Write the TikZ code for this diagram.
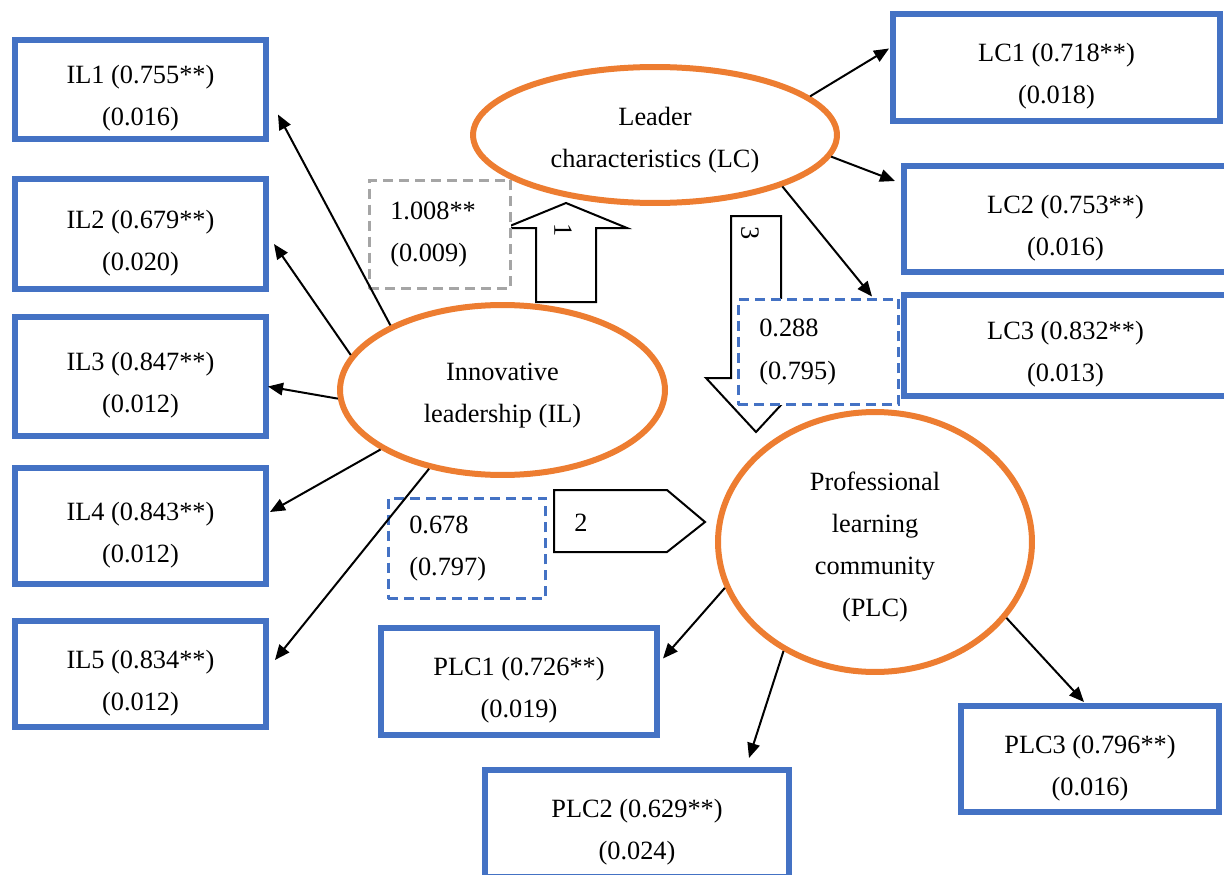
\documentclass[tikz,border=0pt]{standalone}
\usepackage{fontspec}
\setmainfont{Liberation Serif}
\usetikzlibrary{shapes.geometric,arrows.meta}

\definecolor{boxblue}{RGB}{68,114,196}
\definecolor{latorange}{RGB}{237,125,49}
\definecolor{estgray}{RGB}{165,165,165}

% extra room above the first line, as in the text boxes of the original
\newcommand{\indgap}{\rule{0pt}{0.72cm}}
\newcommand{\latgap}{\rule{0pt}{0.58cm}}

\begin{document}
\begin{tikzpicture}[x=0.02cm, y=-0.02cm, font=\fontsize{15}{24}\selectfont,
  ind/.style={draw=boxblue, line width=0.12cm, inner sep=0pt, align=center, fill=white},
  lat/.style={ellipse, draw=latorange, line width=0.12cm, inner sep=0pt, align=center, fill=white},
  est/.style={draw=boxblue, line width=0.05cm, dash pattern=on 0.2cm off 0.12cm, inner xsep=0.42cm, inner ysep=0pt, align=left, fill=white},
  blk/.style={draw, line width=0.04cm, fill=white},
  conn/.style={-{Triangle[length=0.3cm,width=0.25cm]}, line width=0.04cm}]
%\draw[help lines] (0,0) grid[step=100] (1224,875);
\useasboundingbox (0,0) rectangle (1224,875);

% block arrows 1, 2, 3
\draw[blk] (536,302) -- (536,228) -- (505,228) -- (566,203) -- (627,228) -- (596,228) -- (596,302) -- cycle;
\draw[blk] (554,490) -- (667,490) -- (705,522) -- (667,552) -- (554,552) -- cycle;
\draw[blk] (731,216) -- (781,216) -- (781,378) -- (806,378) -- (756,432) -- (706,378) -- (731,378) -- cycle;
\node (n1) [rotate=-90] at (563,230) {1};
\node (n2) at (581,523) {2};
\node (n3) [rotate=-90] at (750,233) {3};

% path estimates
\node (e1) [est, draw=estgray, text width=1.99cm, minimum height=2.17cm] at (440,234.5) {1.008**\\(0.009)};
\node (e2) [est, text width=2.37cm, minimum height=2.11cm] at (818.5,352) {0.288\\(0.795)};
\node (e3) [est, text width=2.31cm, minimum height=2.01cm] at (467,548.5) {0.678\\(0.797)};

% latent variables
\node (lc) [lat, minimum width=7.28cm, minimum height=2.72cm] at (655,135) {\latgap Leader\\characteristics (LC)};
\node (il) [lat, minimum width=6.5cm, minimum height=3.4cm] at (502.5,390) {\latgap Innovative\\leadership (IL)};
\node (plc) [lat, minimum width=6.28cm, minimum height=5.2cm] at (875,542) {\latgap Professional\\learning\\community\\(PLC)};

% indicators
\node (il1) [ind, minimum width=5.02cm, minimum height=1.98cm] at (140.5,89.5) {\indgap IL1 (0.755**)\\(0.016)};
\node (il2) [ind, minimum width=5.02cm, minimum height=2.2cm] at (140.5,234) {\indgap IL2 (0.679**)\\(0.020)};
\node (il3) [ind, minimum width=5.02cm, minimum height=2.38cm] at (140.5,376.5) {\indgap IL3 (0.847**)\\(0.012)};
\node (il4) [ind, minimum width=5.02cm, minimum height=2.32cm] at (140.5,526) {\indgap IL4 (0.843**)\\(0.012)};
\node (il5) [ind, minimum width=5.02cm, minimum height=2.12cm] at (140.5,674) {\indgap IL5 (0.834**)\\(0.012)};
\node (lc1) [ind, minimum width=6.54cm, minimum height=2.14cm] at (1056.5,67.5) {\indgap LC1 (0.718**)\\(0.018)};
\node (lc2) [ind, minimum width=6.46cm, minimum height=2.12cm] at (1065.5,219) {\indgap LC2 (0.753**)\\(0.016)};
\node (lc3) [ind, minimum width=6.46cm, minimum height=2.02cm] at (1065.5,345.5) {\indgap LC3 (0.832**)\\(0.013)};
\node (plc1) [ind, minimum width=5.52cm, minimum height=2.14cm] at (519,681.5) {\indgap PLC1 (0.726**)\\(0.019)};
\node (plc2) [ind, minimum width=6.08cm, minimum height=2.14cm] at (637,823.5) {\indgap PLC2 (0.629**)\\(0.024)};
\node (plc3) [ind, minimum width=5.16cm, minimum height=2.12cm] at (1090,759) {\indgap PLC3 (0.796**)\\(0.016)};

\path[conn]
(il.150) edge ([shift={(9,25)}]il1.east)
(il.167) edge ([shift={(5,10)}]il2.east)
(il.183) edge ([shift={(-1,10)}]il3.east)
(il.206) edge ([shift={(1,-14)}]il4.east)
(il.227) edge ([shift={(6,-14)}]il5.east)
(lc.14) edge ([shift={(-1,-19)}]lc1.west)
(lc.-7) edge ([shift={(-6,-38)}]lc2.west)
(lc.-22) edge ([shift={(-29,-49)}]lc3.west)
(plc.197) edge ([shift={(3,-23)}]plc1.east)
(plc.230) edge ([shift={(112,-9)}]plc2.north)
(plc.-30) edge ([shift={(-6,-1)}]plc3.north);
\end{tikzpicture}
\end{document}
